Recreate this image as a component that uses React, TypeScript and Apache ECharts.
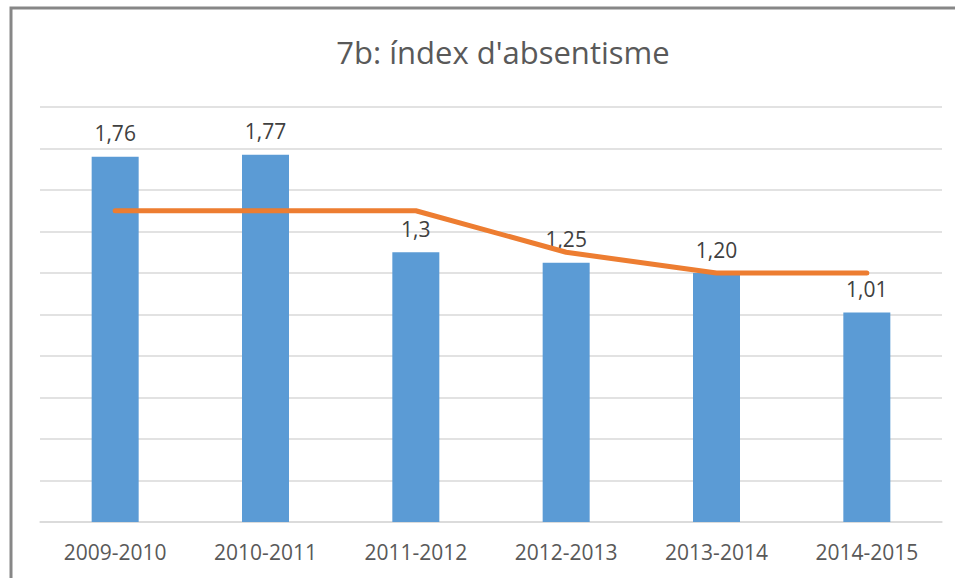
import React, { useEffect, useRef } from "react";
import * as echarts from "echarts";

const categories = ["2009-2010", "2010-2011", "2011-2012", "2012-2013", "2013-2014", "2014-2015"];
const barValues = [1.76, 1.77, 1.3, 1.25, 1.2, 1.01];
const barLabels = ["1,76", "1,77", "1,3", "1,25", "1,20", "1,01"];
const lineValues = [1.5, 1.5, 1.5, 1.3, 1.2, 1.2];
const titleText = "7b: índex d'absentisme";

export default function App() {
  const ref = useRef<HTMLDivElement>(null);
  useEffect(() => {
    if (!ref.current) return;
    const chart = echarts.init(ref.current, undefined, { renderer: "svg" });
    chart.setOption({
      animation: false,
      backgroundColor: "#ffffff",
      textStyle: { fontFamily: "'Open Sans', sans-serif" },
      graphic: [
        {
          type: "rect",
          shape: { x: 11, y: 8, width: 1000, height: 700 },
          style: { fill: "none", stroke: "#878787", lineWidth: 3 },
          silent: true,
        },
      ],
      title: {
        text: titleText,
        left: 498,
        top: 31,
        textAlign: "center",
        textStyle: { fontSize: 31, fontWeight: "normal", color: "#595959", fontFamily: "'Open Sans', sans-serif" },
      },
      grid: { left: 40, right: 13, top: 107, bottom: 56, containLabel: false },
      xAxis: {
        type: "category",
        data: categories,
        axisLine: { show: true, lineStyle: { color: "#d9d9d9", width: 1.5 } },
        axisTick: { show: false },
        axisLabel: { color: "#595959", fontSize: 21, margin: 19 },
      },
      yAxis: {
        type: "value",
        min: 0,
        max: 2,
        interval: 0.2,
        axisLabel: { show: false },
        axisLine: { show: false },
        axisTick: { show: false },
        splitLine: { lineStyle: { color: "#d9d9d9", width: 1.5 } },
      },
      series: [
        {
          type: "bar",
          data: barValues,
          barWidth: 47,
          itemStyle: { color: "#5b9bd5" },
          label: {
            show: true,
            position: "top",
            distance: 13,
            fontSize: 21,
            color: "#404040",
            formatter: (p: any) => barLabels[p.dataIndex],
          },
          z: 2,
        },
        {
          type: "line",
          data: lineValues,
          symbol: "none",
          lineStyle: { color: "#ed7d31", width: 5, cap: "round", join: "round" },
          z: 3,
        },
      ],
    });
    return () => chart.dispose();
  }, []);
  return <div ref={ref} style={{ width: 955, height: 578, position: "absolute", left: 0, top: 0 }} />;
}
